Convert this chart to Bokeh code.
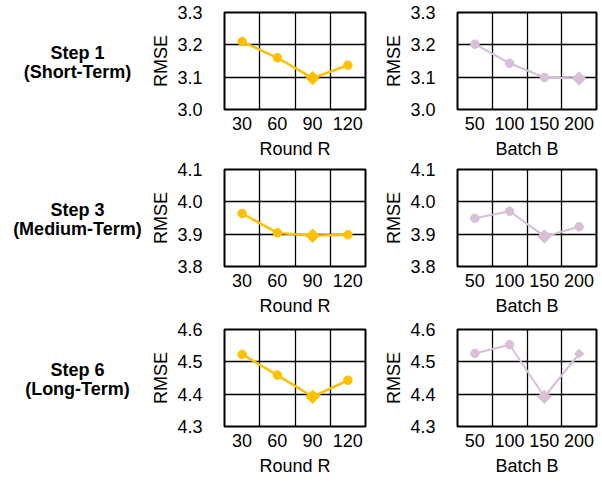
import numpy as np
from bokeh.plotting import figure
from bokeh.layouts import column, row
from bokeh.models import FixedTicker, Range1d, PrintfTickFormatter
from bokeh.core.properties import value
from bokeh.embed import file_html
from bokeh.resources import INLINE

# ---------------- data ----------------
rounds = [30, 60, 90, 120]
batches = [50, 100, 150, 200]

step_titles = ["Step 1", "Step 3", "Step 6"]
step_terms = ["(Short-Term)", "(Medium-Term)", "(Long-Term)"]

rmse_round_step1 = [3.210, 3.160, 3.097, 3.137]
rmse_batch_step1 = [3.202, 3.143, 3.099, 3.096]
rmse_round_step3 = [3.964, 3.904, 3.895, 3.898]
rmse_batch_step3 = [3.949, 3.971, 3.893, 3.923]
rmse_round_step6 = [4.523, 4.459, 4.392, 4.443]
rmse_batch_step6 = [4.526, 4.553, 4.392, 4.525]

yticks_step1 = [3.0, 3.1, 3.2, 3.3]
yticks_step3 = [3.8, 3.9, 4.0, 4.1]
yticks_step6 = [4.3, 4.4, 4.5, 4.6]

# marker kind per point: c = circle, D = large diamond, d = small diamond
markers_round_step1 = ["c", "c", "D", "c"]
markers_batch_step1 = ["c", "c", "c", "D"]
markers_round_step3 = ["c", "c", "D", "c"]
markers_batch_step3 = ["c", "c", "D", "c"]
markers_round_step6 = ["c", "c", "D", "c"]
markers_batch_step6 = ["c", "c", "D", "d"]

# ---------------- style ----------------
FONT = "Liberation Sans"
ORANGE = "#FFC000"
LILAC = "#D8BFD8"
H = 97
TOPS = [12, 8, 8]
BOTTOMS = [52, 55, 54]


def make_panel(cats, vals, yticks, markers, color, lw, xlabel,
               fw, bl, br, bt, bb):
    n = len(cats)
    xs = list(range(1, n + 1))
    p = figure(frame_width=fw, frame_height=H,
               x_range=Range1d(0.5, n + 0.5),
               y_range=Range1d(yticks[0], yticks[-1]),
               output_backend="svg", toolbar_location=None,
               min_border_left=bl, min_border_right=br,
               min_border_top=bt, min_border_bottom=bb)
    p.background_fill_color = "white"
    p.border_fill_color = "white"
    p.outline_line_color = "black"
    p.outline_line_width = 2

    p.xaxis.ticker = FixedTicker(ticks=xs)
    p.xaxis.major_label_overrides = {i: str(c) for i, c in zip(xs, cats)}
    p.xgrid.ticker = FixedTicker(ticks=[i + 0.5 for i in xs[:-1]])
    p.yaxis.ticker = FixedTicker(ticks=yticks)
    p.yaxis.formatter = PrintfTickFormatter(format="%.1f")

    for g in (p.xgrid, p.ygrid):
        g.grid_line_color = "black"
        g.grid_line_width = 1.3
        g.grid_line_alpha = 1.0

    for ax in (p.xaxis, p.yaxis):
        ax.axis_line_color = None
        ax.major_tick_line_color = None
        ax.minor_tick_line_color = None
        ax.major_tick_out = 0
        ax.major_tick_in = 0
        ax.minor_tick_out = 0
        ax.major_label_text_font = FONT
        ax.major_label_text_font_size = "18px"
        ax.major_label_text_color = "black"
        ax.axis_label_text_font = FONT
        ax.axis_label_text_font_size = "18px"
        ax.axis_label_text_font_style = "normal"
        ax.axis_label_text_color = "black"

    p.xaxis.axis_label = xlabel
    p.yaxis.axis_label = "RMSE"
    p.xaxis.major_label_standoff = 7
    p.xaxis.axis_label_standoff = 6
    p.yaxis.major_label_standoff = 22
    p.yaxis.axis_label_standoff = 3

    p.line(xs, vals, line_color=color, line_width=lw)
    cx = [x for x, m in zip(xs, markers) if m == "c"]
    cy = [v for v, m in zip(vals, markers) if m == "c"]
    Dx = [x for x, m in zip(xs, markers) if m == "D"]
    Dy = [v for v, m in zip(vals, markers) if m == "D"]
    dx = [x for x, m in zip(xs, markers) if m == "d"]
    dy = [v for v, m in zip(vals, markers) if m == "d"]
    p.scatter(cx, cy, marker="circle", size=8.5, fill_color=color, line_color=color)
    p.scatter(Dx, Dy, marker="square", angle=np.pi / 4, size=9.5,
              fill_color=color, line_color=color)
    p.scatter(dx, dy, marker="square", angle=np.pi / 4, size=6.5,
              fill_color=color, line_color=color)
    return p


def make_label(title, term, bt, bb):
    p = figure(frame_width=148, frame_height=H,
               x_range=Range1d(0, 1), y_range=Range1d(0, 1),
               output_backend="svg", toolbar_location=None,
               min_border_left=0, min_border_right=0,
               min_border_top=bt, min_border_bottom=bb)
    p.axis.visible = False
    p.grid.visible = False
    p.outline_line_color = None
    p.background_fill_color = "white"
    p.border_fill_color = "white"
    p.text(x=[0.52], y=[0.5], text=[title], y_offset=-8,
           text_font=value(FONT), text_font_size="18px", text_font_style="bold",
           text_align="center", text_baseline="middle", text_color="black")
    p.text(x=[0.52], y=[0.5], text=[term], y_offset=11,
           text_font=value(FONT), text_font_size="18px", text_font_style="bold",
           text_align="center", text_baseline="middle", text_color="black")
    return p


round_series = [rmse_round_step1, rmse_round_step3, rmse_round_step6]
batch_series = [rmse_batch_step1, rmse_batch_step3, rmse_batch_step6]
round_markers = [markers_round_step1, markers_round_step3, markers_round_step6]
batch_markers = [markers_batch_step1, markers_batch_step3, markers_batch_step6]
yticks_all = [yticks_step1, yticks_step3, yticks_step6]

rows = []
for i in range(3):
    lab = make_label(step_titles[i], step_terms[i], TOPS[i], BOTTOMS[i])
    p1 = make_panel(rounds, round_series[i], yticks_all[i], round_markers[i],
                    ORANGE, 2.5, "Round R", 141, 75, 16, TOPS[i], BOTTOMS[i])
    p2 = make_panel(batches, batch_series[i], yticks_all[i], batch_markers[i],
                    LILAC, 2.0, "Batch B", 139, 74, 2, TOPS[i], BOTTOMS[i])
    rows.append(row(lab, p1, p2))

layout = column(*rows)

open("out.html", "w").write(file_html(layout, INLINE))
